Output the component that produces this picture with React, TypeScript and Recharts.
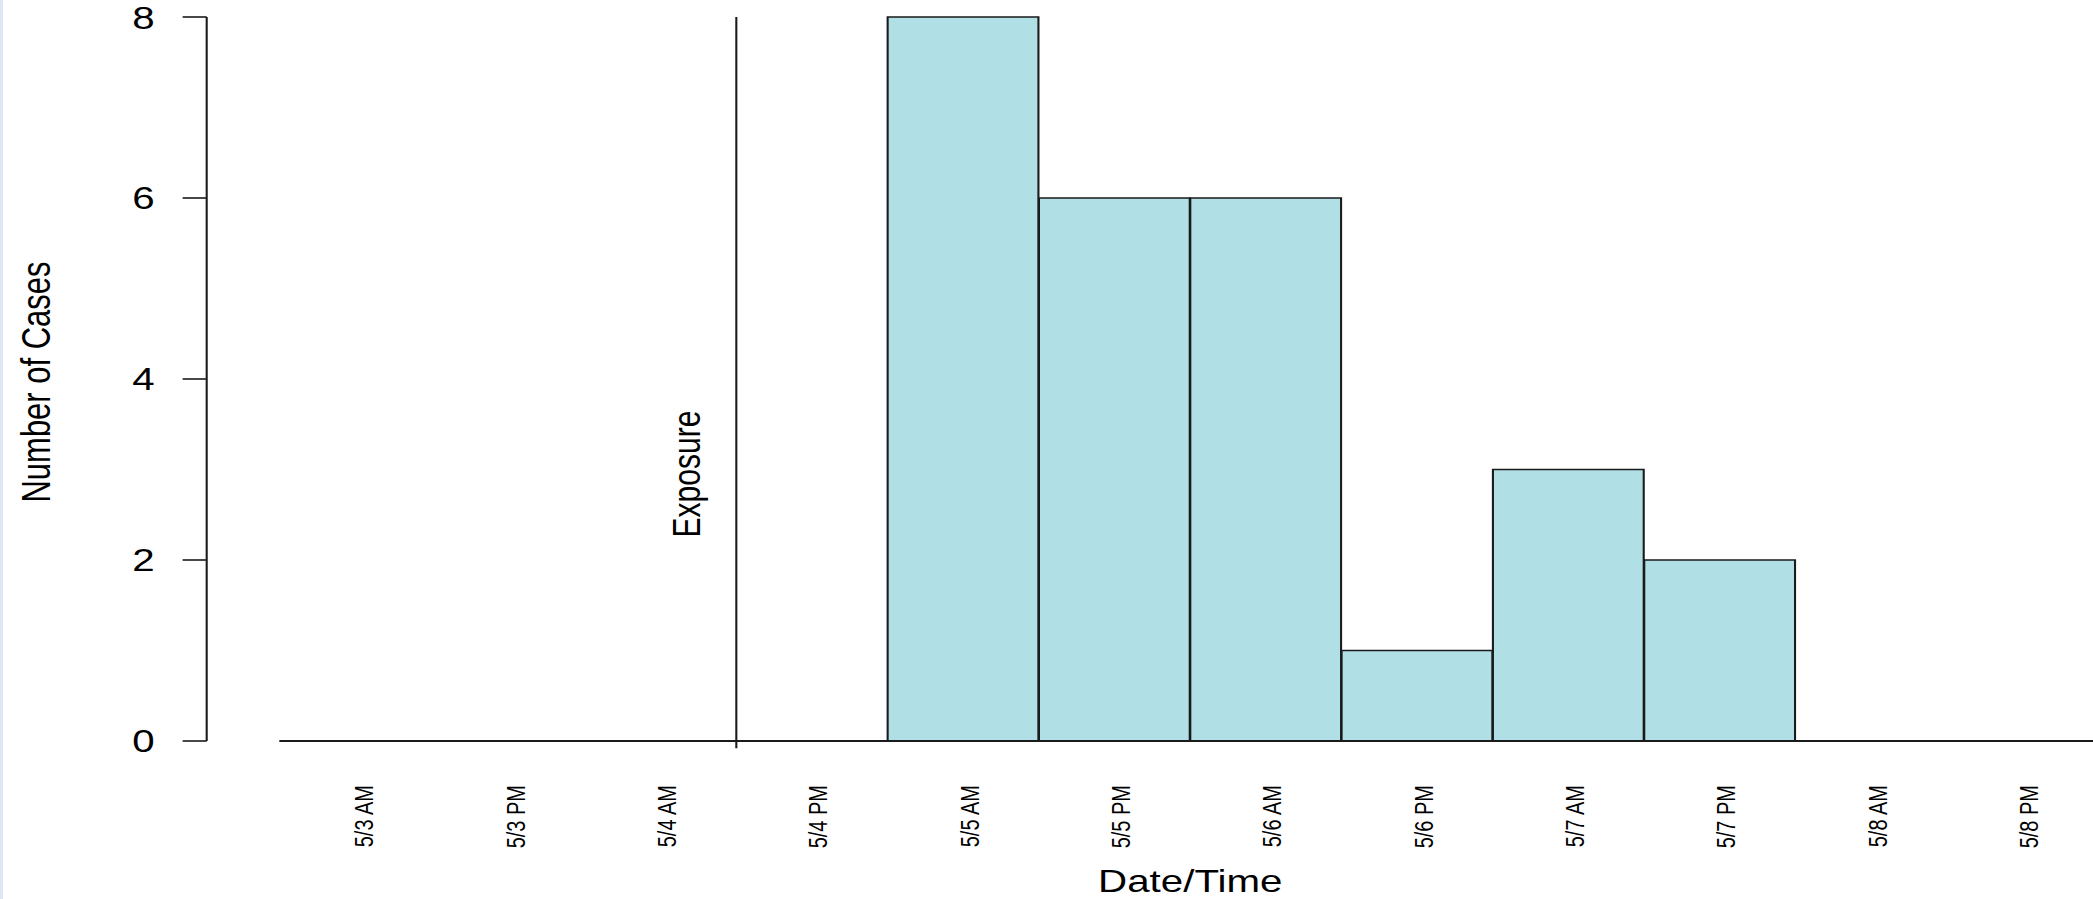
import React from 'react';
import { BarChart, Bar, XAxis, YAxis, ReferenceLine, ReferenceDot } from 'recharts';

// twelve-hour periods and the case counts for each
const periods = ['5/3 AM', '5/3 PM', '5/4 AM', '5/4 PM', '5/5 AM', '5/5 PM', '5/6 AM', '5/6 PM', '5/7 AM', '5/7 PM', '5/8 AM', '5/8 PM'];
const cases = [0, 0, 0, 0, 8, 6, 6, 1, 3, 2, 0, 0];
const yTicks = [0, 2, 4, 6, 8];
const exposureAt = 2.5;
const exposureLabelY = 2.95;

const data = periods.map((label, i) => ({ pos: i, label, cases: cases[i] }));
const xTicks = periods.map((_, i) => i);

// the original picture is stretched sideways, so the chart is drawn narrow and scaled
const STRETCH = 1.3;
const W = 1614;
const H = 899;
const TOP = 17;
const Y_AXIS_W = 159;
const X_AXIS_H = 158;
const X_DOMAIN: [number, number] = [-1, 11.5];
const FONT = '"Liberation Sans", Arial, sans-serif';
const INK = '#1a1a1a';

const plotW = W - Y_AXIS_W;
const xAt = (v: number) => Y_AXIS_W + ((v - X_DOMAIN[0]) / (X_DOMAIN[1] - X_DOMAIN[0])) * plotW;

const PeriodTick = (props: any) => {
  const { x, y, payload } = props;
  const tx = x + 4.6;
  return (
    <text
      x={tx}
      y={y}
      transform={`rotate(-90, ${tx}, ${y})`}
      textAnchor="end"
      dy="0.36em"
      fontSize={20}
      fontFamily={FONT}
      fill="#000"
    >
      {periods[payload.value]}
    </text>
  );
};

const YTitle = () => (
  <text
    x={38.5}
    y={TOP + (H - TOP - X_AXIS_H) / 2 + 3}
    transform={`rotate(-90, 38.5, ${TOP + (H - TOP - X_AXIS_H) / 2 + 3})`}
    textAnchor="middle"
    fontSize={31}
    fontFamily={FONT}
    fill="#000"
  >
    Number of Cases
  </text>
);

const XTitle = () => (
  <text x={xAt(5.5)} y={892} textAnchor="middle" fontSize={31} fontFamily={FONT} fill="#000">
    Date/Time
  </text>
);

const ExposureText = (props: any) => {
  const vb = props.viewBox || {};
  const cx = (vb.x ?? 0) + (vb.width ?? 0) / 2 - 28;
  const cy = (vb.y ?? 0) + (vb.height ?? 0) / 2;
  return (
    <text
      x={cx}
      y={cy}
      transform={`rotate(-90, ${cx}, ${cy})`}
      textAnchor="middle"
      fontSize={30}
      fontFamily={FONT}
      fill="#000"
    >
      Exposure
    </text>
  );
};

export default function App() {
  return (
    <div style={{ position: 'absolute', left: 0, top: 0, width: 2093, height: 899, overflow: 'hidden', background: '#fff' }}>
      <div style={{ width: W, height: H, transform: `scaleX(${STRETCH})`, transformOrigin: '0 0' }}>
        <BarChart width={W} height={H} data={data} margin={{ top: TOP, right: 0, bottom: 0, left: 0 }} barCategoryGap={0}>
          <XAxis
            dataKey="pos"
            type="number"
            domain={X_DOMAIN}
            ticks={xTicks}
            interval={0}
            allowDataOverflow
            height={X_AXIS_H}
            axisLine={false}
            tickLine={false}
            tickSize={0}
            tickMargin={44}
            tick={<PeriodTick />}
            label={<XTitle />}
          />
          <YAxis
            domain={[0, 8]}
            ticks={yTicks}
            width={Y_AXIS_W}
            axisLine={{ stroke: INK, strokeWidth: 1.6 }}
            tickLine={{ stroke: INK, strokeWidth: 1.6 }}
            tickSize={18.5}
            tickMargin={21.5}
            tick={{ fill: '#000', fontSize: 31, fontFamily: FONT }}
            label={<YTitle />}
          />
          <Bar dataKey="cases" fill="#b0dfe5" stroke={INK} strokeWidth={1.6} isAnimationActive={false} />
          <ReferenceLine
            segment={[{ x: -0.52, y: 0 }, { x: 11.5, y: 0 }]}
            stroke={INK}
            strokeWidth={1.8}
            ifOverflow="visible"
          />
          <ReferenceLine
            segment={[{ x: exposureAt, y: -0.08 }, { x: exposureAt, y: 8 }]}
            stroke={INK}
            strokeWidth={1.6}
            ifOverflow="visible"
          />
          <ReferenceDot
            x={exposureAt}
            y={exposureLabelY}
            r={0}
            fill="none"
            stroke="none"
            ifOverflow="visible"
            label={<ExposureText />}
          />
        </BarChart>
      </div>
      <div style={{ position: 'absolute', left: 0, top: 0, width: 3, height: 899, background: '#dce7f7' }} />
    </div>
  );
}
